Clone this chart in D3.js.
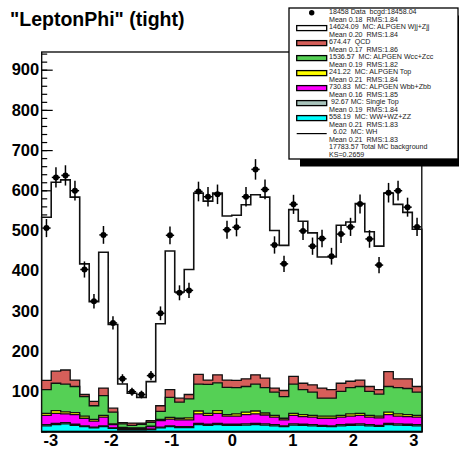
<!DOCTYPE html>
<html>
<head>
<meta charset="utf-8">
<script src="https://cdn.jsdelivr.net/npm/d3@7/dist/d3.min.js"></script>
<style>
  html, body { margin: 0; padding: 0; background: #fff; }
  svg { display: block; font-family: "Liberation Sans", Arial, Helvetica, sans-serif; }
  .leg text { white-space: pre; }
</style>
</head>
<body>
<svg id="chart" width="459" height="452"></svg>
<script>
// Lepton phi distribution: 40 bins from -pi to pi
const nBins = 40;

// Observed events per bin
const dataCounts = [506, 632, 637, 599, 403, 324, 489, 270, 131, 99,
                    92, 139, 294, 488, 345, 351, 597, 584, 590, 502,
                    508, 584, 652, 602, 464, 417, 565, 499, 461, 480,
                    436, 491, 509, 566, 479, 414, 594, 599, 558, 509];

// Background components per bin (stacked bottom to top)
const diboson   = [14,17,19,15,12,9,12,8,4,4, 4,5,9,12,10,10,17,15,17,15,
                   15,16,17,16,14,12,16,15,14,13, 12,14,15,16,14,13,17,16,15,14];
const singleTop = [3,3,3,3,2,2,2,1,1,1, 1,1,2,2,2,2,3,3,3,3,
                   3,3,3,3,3,2,3,3,3,2, 2,3,3,3,3,2,3,3,3,3];
const wbb       = [23,25,22,24,19,15,22,8,3,3, 3,6,16,17,17,17,24,22,25,20,
                   20,23,24,22,19,15,21,19,19,18, 19,19,20,21,19,19,22,19,19,19];
const topQuark  = [5,7,5,5,5,4,4,2,2,1, 1,1,3,4,4,5,7,5,7,4,
                   6,6,7,5,4,4,5,5,4,5, 5,4,6,5,4,4,6,6,5,4];
const wcc       = [59,68,69,65,49,34,49,29,9,6, 9,10,20,50,40,47,67,72,69,68,
                   65,64,67,63,58,54,73,62,58,45, 45,60,65,67,60,55,64,65,65,58];
const qcd       = [23,30,35,16,5,11,19,10,3,6, 3,4,14,19,10,11,24,11,20,18,
                   18,19,23,24,10,15,19,16,18,25, 21,20,16,16,12,11,37,22,24,14];
const wjj       = [406,470,473,455,325,248,338,208,96,74, 64,97,204,345,264,311,451,445,452,408,
                   411,433,448,450,392,361,415,403,378,326, 330,393,396,439,385,357,444,434,414,391];
const wh        = [0.15,0.16,0.16,0.15,0.13,0.11,0.13,0.08,0.04,0.03, 0.03,0.04,0.08,0.13,0.11,0.12,0.17,0.16,0.16,0.15,
                   0.15,0.16,0.17,0.16,0.14,0.13,0.16,0.15,0.14,0.13, 0.13,0.15,0.15,0.16,0.14,0.13,0.17,0.16,0.16,0.14];

const xTicks = [-3, -2, -1, 0, 1, 2, 3];
const yTicks = [100, 200, 300, 400, 500, 600, 700, 800, 900];

const legendLines = [
  "18458 Data  bcgd:18458.04", "Mean 0.18  RMS:1.84",
  "14624.09  MC: ALPGEN Wjj+Zjj", "Mean 0.20  RMS:1.84",
  "674.47  QCD", "Mean 0.17  RMS:1.86",
  "1536.57  MC: ALPGEN Wcc+Zcc", "Mean 0.19  RMS:1.82",
  "241.22  MC: ALPGEN Top", "Mean 0.21  RMS:1.84",
  "730.83  MC: ALPGEN Wbb+Zbb", "Mean 0.16  RMS:1.85",
  " 92.67 MC: Single Top", "Mean 0.19  RMS:1.84",
  "558.19  MC: WW+WZ+ZZ", "Mean 0.21  RMS:1.83",
  "  6.02  MC: WH", "Mean 0.21  RMS:1.83",
  "17783.57 Total MC background", "KS=0.2659"
];

const layers = [
  { key: "diboson",   values: diboson,   fill: "#00ffff" },
  { key: "singleTop", values: singleTop, fill: "#a8c4bc" },
  { key: "wbb",       values: wbb,       fill: "#ff00ff" },
  { key: "top",       values: topQuark,  fill: "#ffff00" },
  { key: "wcc",       values: wcc,       fill: "#55d055" },
  { key: "qcd",       values: qcd,       fill: "#d65f5a" },
  { key: "wjj",       values: wjj,       fill: "#ffffff" }
];

const svg = d3.select("#chart");
const W = 459, H = 452;
svg.append("rect").attr("width", W).attr("height", H).attr("fill", "#fff");

const frame = { left: 41.7, right: 421.8, top: 52, bottom: 431.5 };
const x = d3.scaleLinear().domain([-Math.PI, Math.PI]).range([frame.left, frame.right]);
const y = d3.scaleLinear().domain([0, 944]).range([frame.bottom, frame.top]);
const binW = 2 * Math.PI / nBins;
const edge = i => -Math.PI + i * binW;
const center = i => edge(i) + binW / 2;

// Title
svg.append("text")
  .attr("x", 10).attr("y", 26)
  .attr("font-size", 19.5).attr("font-weight", "bold")
  .text("\"LeptonPhi\" (tight)");

// Axes (drawn under the histograms, ticks point inward)
const gx = svg.append("g").attr("transform", `translate(0,${frame.bottom})`);
gx.call(d3.axisBottom(x).tickValues(d3.range(-3, 3.01, 0.2)).tickFormat("").tickSizeInner(-5.5).tickSizeOuter(0));
const gxMaj = svg.append("g").attr("transform", `translate(0,${frame.bottom})`);
gxMaj.call(d3.axisBottom(x).tickValues(xTicks).tickFormat(d3.format("d")).tickSizeInner(-11).tickSizeOuter(0).tickPadding(3));
gxMaj.selectAll("text").attr("font-size", 16.5).attr("font-weight", "bold")
  .attr("font-family", "Liberation Sans, Arial, sans-serif").attr("fill", "#000")
  .text(d => d < 0 ? "-" + Math.abs(d) : d);

const gy = svg.append("g").attr("transform", `translate(${frame.left},0)`);
gy.call(d3.axisLeft(y).tickValues(d3.range(0, 941, 20)).tickFormat("").tickSizeInner(-5.5).tickSizeOuter(0));
const gyMaj = svg.append("g").attr("transform", `translate(${frame.left},0)`);
gyMaj.call(d3.axisLeft(y).tickValues(yTicks).tickFormat(d3.format("d")).tickSizeInner(-11).tickSizeOuter(0).tickPadding(2.5));
gyMaj.selectAll("text").attr("font-size", 16.5).attr("font-weight", "bold")
  .attr("font-family", "Liberation Sans, Arial, sans-serif").attr("fill", "#000");
svg.selectAll(".domain").remove();
svg.selectAll(".tick line").attr("stroke", "#000").attr("stroke-width", 1.2);

// Frame
svg.append("rect")
  .attr("x", frame.left).attr("y", frame.top)
  .attr("width", frame.right - frame.left).attr("height", frame.bottom - frame.top)
  .attr("fill", "none").attr("stroke", "#000").attr("stroke-width", 1.3);

// Stacked background histograms
const rows = d3.range(nBins).map(i => Object.fromEntries(layers.map(l => [l.key, l.values[i]])));
const series = d3.stack().keys(layers.map(l => l.key))(rows);

const area = d3.area()
  .x(d => x(d.x))
  .y0(y(0))
  .y1(d => y(d.v))
  .curve(d3.curveStepAfter);

const stepPoints = vals => d3.range(nBins + 1).map(i => ({ x: edge(i), v: vals[Math.min(i, nBins - 1)] }));

const gStack = svg.append("g");
series.slice().reverse().forEach(s => {
  const layer = layers.find(l => l.key === s.key);
  const tops = s.map(d => d[1]);
  gStack.append("path")
    .attr("d", area(stepPoints(tops)))
    .attr("fill", layer.fill)
    .attr("stroke", "#111")
    .attr("stroke-width", s.key === "wjj" ? 1.6 : 1.3)
    .attr("stroke-linejoin", "miter");
});

// WH drawn as an unfilled line histogram
const line = d3.line().x(d => x(d.x)).y(d => y(d.v)).curve(d3.curveStepAfter);
svg.append("path").attr("d", line(stepPoints(wh)))
  .attr("fill", "none").attr("stroke", "#000").attr("stroke-width", 1);

// Data points with statistical error bars
const gData = svg.append("g");
dataCounts.forEach((n, i) => {
  const cx = x(center(i)), cy = y(n), err = Math.sqrt(n);
  gData.append("line").attr("x1", cx).attr("x2", cx)
    .attr("y1", y(n - err)).attr("y2", y(n + err))
    .attr("stroke", "#000").attr("stroke-width", 1.5);
  gData.append("line").attr("x1", x(edge(i)) + 0.6).attr("x2", x(edge(i + 1)) - 0.6)
    .attr("y1", cy).attr("y2", cy)
    .attr("stroke", "#000").attr("stroke-width", 1.5);
  gData.append("circle").attr("cx", cx).attr("cy", cy).attr("r", 3).attr("fill", "#000");
});

// Legend with drop shadow
const leg = svg.append("g").attr("class", "leg");
const box = { x: 289, y: 8, w: 169, h: 151 };
leg.append("rect").attr("x", box.x + 11).attr("y", box.y + 7.5)
  .attr("width", box.w).attr("height", box.h).attr("fill", "#000");
leg.append("rect").attr("x", box.x).attr("y", box.y)
  .attr("width", box.w).attr("height", box.h)
  .attr("fill", "#fff").attr("stroke", "#000").attr("stroke-width", 1.3);

const lineY = k => 11.8 + 7.5 * k;
legendLines.forEach((t, k) => {
  leg.append("text").attr("x", 329).attr("y", lineY(k) + 2.5)
    .attr("font-size", 7.1).attr("fill", "#1a1a1a").text(t);
});

const sx0 = 296.7, sw = 30, sh = 5;
// Data marker
leg.append("circle").attr("cx", sx0 + sw / 2).attr("cy", lineY(0) + 1).attr("r", 2.7).attr("fill", "#000");
// Filled boxes for the stacked components, in legend order
const legendFills = ["wjj", "qcd", "wcc", "top", "wbb", "singleTop", "diboson"];
legendFills.forEach((key, j) => {
  const layer = layers.find(l => l.key === key);
  leg.append("rect")
    .attr("x", sx0).attr("y", lineY(2 + 2 * j) + 1.3 - sh / 2)
    .attr("width", sw).attr("height", sh)
    .attr("fill", layer.fill).attr("stroke", "#000").attr("stroke-width", 1.3);
});
// WH line symbol
leg.append("line").attr("x1", sx0).attr("x2", sx0 + sw)
  .attr("y1", lineY(16) + 1.8).attr("y2", lineY(16) + 1.8)
  .attr("stroke", "#000").attr("stroke-width", 1.2);
</script>
</body>
</html>
